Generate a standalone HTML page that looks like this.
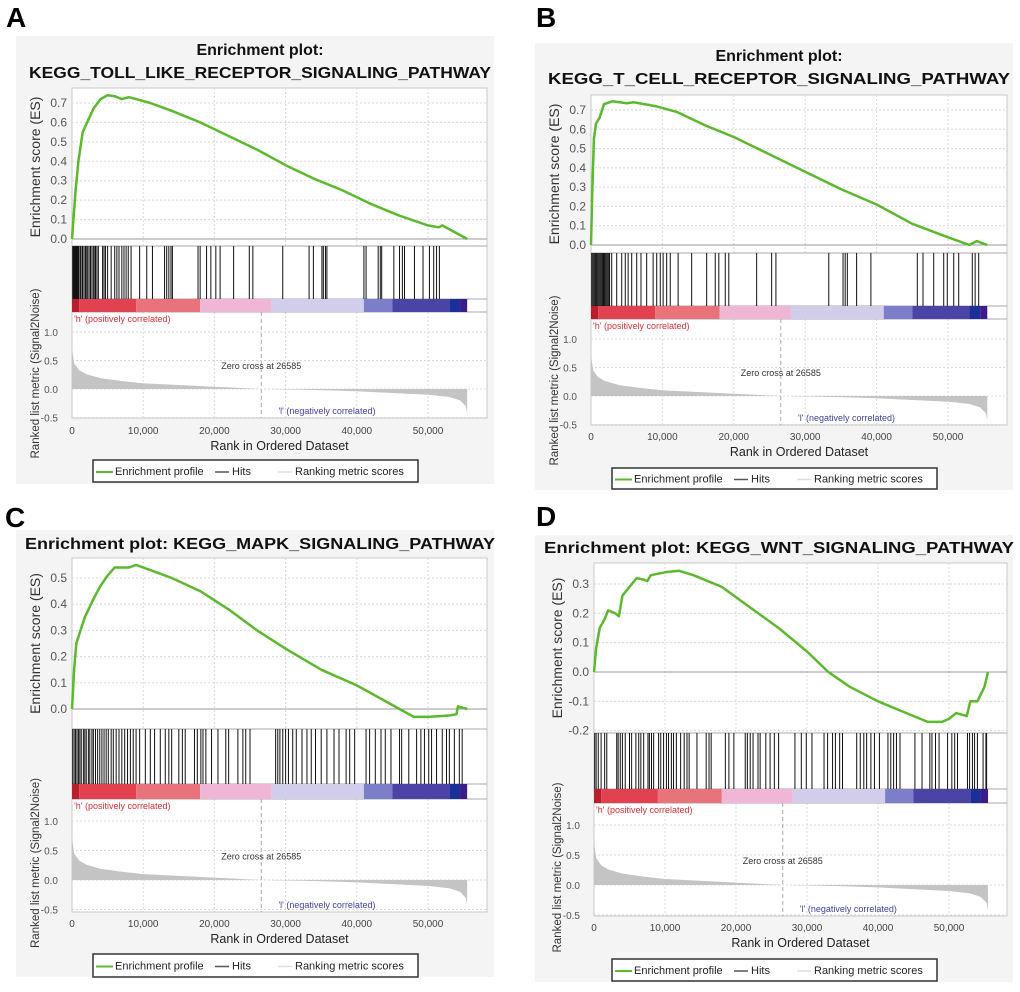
<!DOCTYPE html>
<html><head><meta charset="utf-8"><style>
html,body{margin:0;padding:0;background:#fff;}
svg text{font-family:"Liberation Sans",Arial,sans-serif;}
</style></head><body>
<svg id="fig" width="1020" height="987" viewBox="0 0 1020 987" xmlns="http://www.w3.org/2000/svg"></svg>
<script>
// ---- data ----
const xTicks=[0,10000,20000,30000,40000,50000];
const xTickLabels=["0","10,000","20,000","30,000","40,000","50,000"];
const metricTicks=[1.0,0.5,0.0,-0.5];
const metricTickLabels=["1.0","0.5","0.0","-0.5"];
const metricRanks=[0,300,1000,2000,4000,7000,10000,15000,20000,26585,35000,40000,45000,50000,53000,54500,55300,55500];
const metricValues=[0.72,0.45,0.33,0.26,0.19,0.14,0.1,0.07,0.04,0,-0.02,-0.04,-0.07,-0.1,-0.14,-0.2,-0.3,-0.42];
const colorStops=[0,1000,9000,18000,28000,41000,45000,53000,54500,55500];
const colorValues=["#b81e2c","#e2424f","#e8737a","#f0b6d6","#d2cdea","#7c7ec9","#4a44a6","#1c2e98","#3d1c8a"];
const zeroCross=26585;
const esTicksA=[0,0.1,0.2,0.3,0.4,0.5,0.6,0.7];
const esTicksC=[0,0.1,0.2,0.3,0.4,0.5];
const esTicksD=[-0.2,-0.1,0,0.1,0.2,0.3];
const esRanksA=[0,200,500,900,1500,2500,3000,4000,5000,6000,7000,8000,9000,11000,14000,18000,22000,26000,30000,34000,38000,42000,46000,50000,51500,52000,55500];
const esValuesA=[0,0.1,0.25,0.4,0.55,0.63,0.67,0.72,0.74,0.735,0.72,0.73,0.72,0.7,0.66,0.6,0.53,0.46,0.38,0.31,0.25,0.18,0.12,0.07,0.06,0.07,0];
const esRanksB=[0,200,400,700,1200,1800,3000,5000,6000,9000,12000,16000,20000,25000,30000,35000,40000,45000,50000,53000,54000,55500];
const esValuesB=[0,0.3,0.55,0.63,0.66,0.73,0.745,0.735,0.74,0.72,0.69,0.62,0.56,0.47,0.38,0.29,0.21,0.11,0.04,0,0.02,0];
const esRanksC=[0,300,600,1200,1800,3000,4000,5000,6000,8000,9000,11000,14000,18000,22000,26000,30000,35000,40000,44000,46000,48000,50000,53000,54000,54200,55500];
const esValuesC=[0,0.15,0.25,0.3,0.35,0.42,0.47,0.51,0.54,0.54,0.55,0.53,0.5,0.45,0.38,0.3,0.23,0.15,0.09,0.03,0,-0.03,-0.03,-0.025,-0.02,0.01,0];
const esRanksD=[0,300,800,1500,2000,3000,3500,4000,5000,6000,7000,7500,8000,10000,12000,14000,18000,22000,26000,30000,33000,36000,40000,44000,47000,49000,50000,51000,52500,53000,54000,55000,55500];
const esValuesD=[0,0.08,0.15,0.18,0.21,0.2,0.19,0.26,0.29,0.32,0.315,0.31,0.33,0.34,0.345,0.33,0.29,0.22,0.15,0.07,0,-0.05,-0.1,-0.14,-0.17,-0.17,-0.16,-0.14,-0.15,-0.1,-0.1,-0.05,0];
const hitsA=[100,200,300,400,500,600,700,800,900,1000,1200,1400,1500,1700,1900,2000,2200,2400,2600,2800,3000,3200,3300,3500,3700,4300,4500,4700,5000,5500,6000,6300,6600,7000,7300,7600,7900,8300,9500,10500,11300,13000,13300,13600,13900,14100,17700,18000,18900,19500,20200,20800,22700,24900,25400,29600,33300,33900,35100,35300,35600,35800,41000,41300,43000,43300,43500,45200,46000,46400,46700,48100,49300,50200,50800,51200,51600];
const hitsB=[100,250,400,550,700,850,1000,1150,1300,1450,1600,1750,1900,2050,2200,2350,2500,2600,2900,3600,4300,4800,5200,5700,6400,7000,7800,8700,9200,9700,10100,10600,11100,12200,14100,16200,17400,17900,18800,19300,23200,25300,25900,33300,35300,35600,35900,37200,39200,45700,46500,48000,49400,49900,50800,51500,53400,53800,54300];
const hitsC=[100,300,500,700,900,1100,1300,1600,1800,2000,2300,2500,2800,3000,3300,3600,3900,4200,4500,4800,5100,5500,5800,6200,6600,7000,7400,7800,8200,8600,9000,9500,10300,11000,11600,12400,13100,13600,14000,15000,15500,15900,17200,17600,18100,18400,18800,19600,20500,21600,22000,23300,24000,24400,25000,28600,28900,29200,29600,30000,30400,31000,31500,32300,33000,33600,34200,35000,35800,36800,37500,38500,39000,39700,41300,41800,42600,43400,44000,44800,46000,46300,47300,48400,49000,49500,50100,50500,51200,52000,52600,53000,53700,54400,54800];
const hitsD=[100,300,600,1000,1500,1800,3200,3400,3700,4000,4400,5000,5300,5900,6300,6600,7000,7600,7800,8100,8400,9100,9400,9800,10200,10500,10900,11200,11600,12200,12700,13100,13400,14500,15800,16200,16500,18500,19000,19700,21300,21600,22000,22400,23100,23400,24200,24800,25400,26000,28300,29200,29900,30700,32400,32900,33600,34000,34600,35000,37000,37500,38000,38400,39000,39500,40200,41400,41800,42200,42600,43100,45200,46200,47300,47600,48100,48600,49800,50400,50800,51200,52600,52900,53300,53600,54000,54800,55200,55300];

const NS="http://www.w3.org/2000/svg";
const svg=document.getElementById('fig');
function mk(tag,attrs,parent,txt){const e=document.createElementNS(NS,tag);for(const k in attrs)e.setAttribute(k,attrs[k]);if(txt!==undefined)e.textContent=txt;(parent||svg).appendChild(e);return e;}
function interp(xs,ys,x){if(x<=xs[0])return ys[0];for(let i=1;i<xs.length;i++){if(x<=xs[i]){const t=(x-xs[i-1])/(xs[i]-xs[i-1]);return ys[i-1]+t*(ys[i]-ys[i-1]);}}return ys[ys.length-1];}

const panels=[
 {id:'a',letter:'A',lx:6,ly:27,box:[16,36,478,448],title:["Enrichment plot:","KEGG_TOLL_LIKE_RECEPTOR_SIGNALING_PATHWAY"],ty:[55,78],
  L:72,R:487,x0:72,x50:428,esTop:88,esBot:246,es0:239,esRef:0.7,esRefY:103,esT:esTicksA,
  cbTop:299,cbBot:312,mTop:312,mBot:418,m1:332,m0:389,ticky:434,xly:450,leg:[93,460,325,22],esR:esRanksA,esV:esValuesA,hits:hitsA},
 {id:'b',letter:'B',lx:536,ly:27,box:[535,43,478,447],title:["Enrichment plot:","KEGG_T_CELL_RECEPTOR_SIGNALING_PATHWAY"],ty:[61,84],
  L:591,R:1007,x0:591,x50:948,esTop:95,esBot:253,es0:245,esRef:0.7,esRefY:110,esT:esTicksA,
  cbTop:306,cbBot:319,mTop:319,mBot:425,m1:339,m0:396,ticky:440,xly:456,leg:[612,468,325,21],esR:esRanksB,esV:esValuesB,hits:hitsB},
 {id:'c',letter:'C',lx:5,ly:527,box:[16,530,478,447],title:["Enrichment plot: KEGG_MAPK_SIGNALING_PATHWAY"],ty:[549],
  L:72,R:487,x0:72,x50:428,esTop:558,esBot:729,es0:709,esRef:0.5,esRefY:578,esT:esTicksC,
  cbTop:784,cbBot:799,mTop:799,mBot:912,m1:821,m0:880,ticky:927,xly:943,leg:[93,954,325,23],esR:esRanksC,esV:esValuesC,hits:hitsC},
 {id:'d',letter:'D',lx:536,ly:526,box:[535,535,478,447],title:["Enrichment plot: KEGG_WNT_SIGNALING_PATHWAY"],ty:[553],
  L:594,R:1007,x0:594,x50:949,esTop:563,esBot:733,es0:672,esRef:0.3,esRefY:584,esT:esTicksD,
  cbTop:789,cbBot:803,mTop:803,mBot:916,m1:825,m0:885,ticky:931,xly:947,leg:[612,959,325,22],esR:esRanksD,esV:esValuesD,hits:hitsD}
];

panels.forEach(p=>{
  const g=mk('g',{});
  
  
  const xs=r=>p.x0+(r/50000)*(p.x50-p.x0);
  const ys=v=>p.es0+(v/p.esRef)*(p.esRefY-p.es0);
  const ms=v=>p.m0+v*(p.m1-p.m0);
  const letter=mk('text',{x:p.lx,y:p.ly,'font-size':28,'font-weight':'bold',fill:'#000'},g,p.letter);
  
  
  const bg=mk('rect',{x:p.box[0],y:p.box[1],width:p.box[2],height:p.box[3],fill:'#f4f4f4'},g);
  
  
  p.title.forEach((t,i)=>{
    const el=mk('text',{x:(p.box[0]*2+p.box[2])/2+5,y:p.ty[i],'font-size':16,'font-weight':'bold','text-anchor':'middle',fill:'#111'},g,t);
    if(t.length>30){el.setAttribute('textLength',p.title.length>1?462:470);el.setAttribute('lengthAdjust','spacingAndGlyphs');}
    
    
  });
  const plot=mk('rect',{x:p.L,y:p.esTop,width:p.R-p.L,height:p.mBot-p.esTop,fill:'#fff',stroke:'#c8c8c8','stroke-width':1},g);
  
  
  // grids
  xTicks.forEach(t=>{ if(t===0)return;
    mk('line',{x1:xs(t),x2:xs(t),y1:p.esTop,y2:p.esBot,stroke:'#d8d8d8','stroke-dasharray':'2,2'},g);
    mk('line',{x1:xs(t),x2:xs(t),y1:p.mTop,y2:p.mBot,stroke:'#d8d8d8','stroke-dasharray':'2,2'},g);
  });
  p.esT.forEach(t=>{
    mk('line',{x1:p.L,x2:p.R,y1:ys(t),y2:ys(t),stroke:t===0?'#999':'#d8d8d8','stroke-dasharray':t===0?'':'2,2'},g);
    const tl=mk('text',{x:p.L-5,y:ys(t)+4,'font-size':12,'text-anchor':'end',fill:'#555'},g,t.toFixed(1));
    
    
  });
  metricTicks.forEach((t,i)=>{
    mk('line',{x1:p.L,x2:p.R,y1:ms(t),y2:ms(t),stroke:'#d8d8d8','stroke-dasharray':'2,2'},g);
    const tl=mk('text',{x:p.L-14,y:ms(t)+4,'font-size':10,'text-anchor':'end',fill:'#555'},g,metricTickLabels[i]);
    
    
  });
  mk('line',{x1:p.L,x2:p.R,y1:p.esBot,y2:p.esBot,stroke:'#aaa'},g);
  mk('line',{x1:p.L,x2:p.R,y1:p.cbTop,y2:p.cbTop,stroke:'#aaa'},g);
  mk('line',{x1:p.L,x2:p.R,y1:p.cbBot,y2:p.cbBot,stroke:'#aaa'},g);
  // hits
  p.hits.forEach(h=>{
    const l=mk('line',{x1:xs(h),x2:xs(h),y1:p.esBot,y2:p.cbTop,stroke:'#111','stroke-width':1},g);
    
    
  });
  // colorbar
  colorValues.forEach((c,i)=>{
    const r=mk('rect',{x:xs(colorStops[i]),y:p.cbTop,width:xs(colorStops[i+1])-xs(colorStops[i]),height:p.cbBot-p.cbTop,fill:c},g);
    
    
  });
  // metric fill
  function fillSeg(a,b){let pts=[[xs(a),ms(0)]];for(let r=a;r<=b;r+=50)pts.push([xs(r),ms(interp(metricRanks,metricValues,r))]);pts.push([xs(b),ms(interp(metricRanks,metricValues,b))]);pts.push([xs(b),ms(0)]);
    const poly=mk('polygon',{points:pts.map(q=>q.join(',')).join(' '),fill:'#c4c4c4'},g);
    
    }
  fillSeg(metricRanks[0],26300);fillSeg(28000,metricRanks[metricRanks.length-1]);
  const zc=mk('line',{x1:xs(zeroCross),x2:xs(zeroCross),y1:p.cbBot,y2:p.mBot,stroke:'#aaa','stroke-dasharray':'4,3'},g);
  
  
  const zt=mk('text',{x:xs(zeroCross),y:ms(0.4)+3,'font-size':9,'text-anchor':'middle',fill:'#333'},g,'Zero cross at 26585');
  
  
  const ht=mk('text',{x:p.L+2,y:p.cbBot+10,'font-size':9,fill:'#d0303a'},g,"'h' (positively correlated)");
  
  
  const lt=mk('text',{x:xs(29000),y:p.mBot-4,'font-size':9,fill:'#4040a0'},g,"'l' (negatively correlated)");
  
  
  // ES line
  const d=p.esR.map((r,i)=>(i?'L':'M')+xs(r).toFixed(1)+','+ys(p.esV[i]).toFixed(1)).join('');
  const esl=mk('path',{d:d,fill:'none',stroke:'#5cb82e','stroke-width':2.5,'stroke-linejoin':'round'},g);
  
  
  // x ticks
  xTicks.forEach((t,i)=>{
    const tl=mk('text',{x:xs(t),y:p.ticky,'font-size':10,'text-anchor':'middle',fill:'#444'},g,xTickLabels[i]);
    
    
  });
  const xl=mk('text',{x:(p.L+p.R)/2,y:p.xly,'font-size':12.5,'text-anchor':'middle',fill:'#222'},g,'Rank in Ordered Dataset');
  
  
  const y1c=(p.esTop+p.esBot)/2;
  const yl1=mk('text',{x:0,y:0,'font-size':14,'text-anchor':'middle',fill:'#333',transform:`translate(${p.L-32},${y1c}) rotate(-90)`},g,'Enrichment score (ES)');
  
  
  const y2c=(p.cbTop+p.mBot)/2+15;
  const yl2=mk('text',{x:0,y:0,'font-size':11.5,'text-anchor':'middle',fill:'#333',transform:`translate(${p.L-33},${y2c}) rotate(-90)`},g,'Ranked list metric (Signal2Noise)');
  
  
  // legend
  const [lx,ly,lw,lh]=p.leg;
  const lg=mk('g',{},g);
  
  
  mk('rect',{x:lx,y:ly,width:lw,height:lh,fill:'#fff',stroke:'#333','stroke-width':1.5},lg);
  const cy=ly+lh/2;
  mk('line',{x1:lx+3,x2:lx+20,y1:cy+1,y2:cy+1,stroke:'#5cb82e','stroke-width':2},lg);
  const e1=mk('text',{x:lx+22,y:cy+4,'font-size':11,fill:'#222'},lg,'Enrichment profile');
  
  
  mk('line',{x1:lx+122,x2:lx+136,y1:cy+1,y2:cy+1,stroke:'#555','stroke-width':1.5},lg);
  const e2=mk('text',{x:lx+139,y:cy+4,'font-size':11,fill:'#222'},lg,'Hits');
  
  
  mk('line',{x1:lx+185,x2:lx+199,y1:cy+1,y2:cy+1,stroke:'#ddd','stroke-width':1.5},lg);
  const e3=mk('text',{x:lx+202,y:cy+4,'font-size':11,fill:'#222'},lg,'Ranking metric scores');
  
  
});
</script>
</body></html>
